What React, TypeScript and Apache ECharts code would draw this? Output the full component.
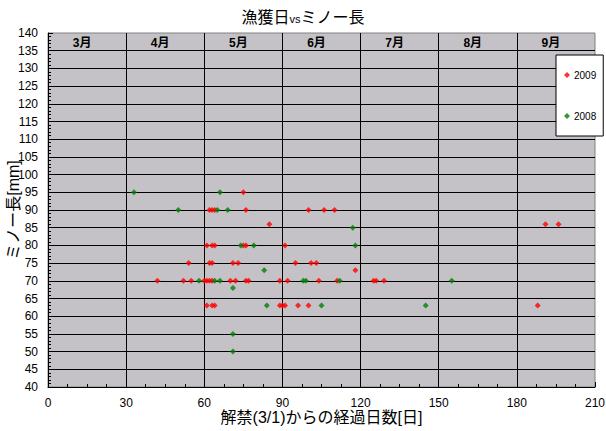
import { useEffect, useRef } from 'react'
import * as echarts from 'echarts'

// [days since 3/1, minnow length mm]
const catch2009: [number, number][] = [
  [75, 95],
  [62, 90], [63, 90], [64, 90], [76, 90], [100, 90], [106, 90], [110, 90],
  [85, 86], [191, 86], [196, 86],
  [61, 80], [63, 80], [64, 80], [75, 80], [76, 80], [91, 80],
  [54, 75], [62, 75], [63, 75], [71, 75], [73, 75], [95, 75], [101, 75], [103, 75],
  [118, 73],
  [42, 70], [52, 70], [55, 70], [60, 70], [61, 70], [62, 70], [63, 70], [70, 70], [72, 70],
  [76, 70], [77, 70], [89, 70], [92, 70], [104, 70], [111, 70], [125, 70], [126, 70], [129, 70],
  [61, 63], [63, 63], [64, 63], [89, 63], [90, 63], [91, 63], [96, 63], [100, 63], [188, 63]
]

const catch2008: [number, number][] = [
  [33, 95], [66, 95],
  [50, 90], [65, 90], [69, 90],
  [117, 85],
  [74, 80], [79, 80], [118, 80],
  [83, 73],
  [58, 70], [64, 70], [66, 70], [98, 70], [99, 70], [112, 70], [155, 70],
  [71, 68],
  [84, 63], [105, 63], [145, 63],
  [71, 55], [71, 50]
]

const months = ['3月', '4月', '5月', '6月', '7月', '8月', '9月']

const FONT = '"Liberation Sans", "Noto Sans CJK JP", sans-serif'

export default function App() {
  const chartRef = useRef<HTMLDivElement>(null)

  useEffect(() => {
    if (!chartRef.current) return
    const chart = echarts.init(chartRef.current, undefined, { renderer: 'svg' })

    const option: echarts.EChartsOption = {
      animation: false,
      backgroundColor: '#FFFFFF',
      title: {
        text: '{a|漁獲日}{b|vs}{a|ミノー長}',
        left: 'center',
        top: 4,
        textStyle: {
          rich: {
            a: { fontSize: 16, fontFamily: FONT, color: '#000', fontWeight: 'normal' },
            b: { fontSize: 11, fontFamily: FONT, color: '#000', fontWeight: 'normal', padding: [3, 0, 0, 0] }
          }
        }
      },
      legend: {
        orient: 'vertical',
        left: 556,
        top: 55,
        padding: [15, 7, 15, 8],
        itemGap: 31,
        itemWidth: 6,
        itemHeight: 6,
        backgroundColor: '#FFFFFF',
        borderColor: '#000000',
        borderWidth: 1,
        borderRadius: 0,
        icon: 'diamond',
        data: ['2009', '2008'],
        textStyle: { fontSize: 10, fontFamily: FONT, color: '#000', padding: [0, 0, 0, -1] }
      },
      grid: {
        left: 48,
        right: 11,
        top: 33,
        bottom: 44,
        outerBoundsMode: 'none',
        containLabel: false,
        show: true,
        backgroundColor: '#C4C2C6',
        borderColor: '#808080',
        borderWidth: 1
      } as any,
      xAxis: [
        {
          type: 'value',
          min: 0,
          max: 210,
          interval: 30,
          name: '解禁(3/1)からの経過日数[日]',
          nameLocation: 'middle',
          nameGap: 22,
          nameMoveOverlap: false,
          nameTextStyle: { fontSize: 16, fontFamily: FONT, color: '#000' },
          axisLine: { lineStyle: { color: '#000', width: 1 } },
          axisTick: { inside: true, length: 5, lineStyle: { color: '#000' } },
          minorTick: { show: true, splitNumber: 4, length: 3, lineStyle: { color: '#000' } },
          axisLabel: { fontSize: 12, fontFamily: FONT, color: '#000', margin: 10 },
          splitLine: { show: true, showMaxLine: false, lineStyle: { color: '#000', width: 1 } }
        },
        {
          type: 'category',
          position: 'top',
          data: months,
          boundaryGap: true,
          axisLine: { show: false },
          axisTick: { show: false },
          splitLine: { show: false },
          axisLabel: {
            inside: true,
            margin: 4,
            fontSize: 12,
            fontWeight: 'bold',
            fontFamily: FONT,
            color: '#000',
            padding: [0, 10, 0, 0]
          }
        }
      ] as any,
      yAxis: {
        type: 'value',
        min: 40,
        max: 140,
        interval: 5,
        name: 'ミノー長[mm]',
        nameLocation: 'middle',
        nameGap: 27,
        nameMoveOverlap: false,
        nameTextStyle: { fontSize: 16, fontFamily: FONT, color: '#000' },
        axisLine: { show: true, lineStyle: { color: '#000', width: 1 } },
        axisTick: { show: true, inside: true, length: 5, lineStyle: { color: '#000' } },
        minorTick: { show: true, splitNumber: 5, length: 3, lineStyle: { color: '#000' } },
        axisLabel: { fontSize: 12, fontFamily: FONT, color: '#000', margin: 10 },
        splitLine: { show: true, showMaxLine: false, lineStyle: { color: '#000', width: 1 } }
      } as any,
      series: [
        {
          name: '2009',
          type: 'scatter',
          xAxisIndex: 0,
          data: catch2009,
          symbol: 'diamond',
          symbolSize: 6,
          itemStyle: { color: '#FF0000' }
        },
        {
          name: '2008',
          type: 'scatter',
          xAxisIndex: 0,
          data: catch2008,
          symbol: 'diamond',
          symbolSize: 6,
          itemStyle: { color: '#008000' }
        }
      ]
    }

    chart.setOption(option)

    return () => {
      chart.dispose()
    }
  }, [])

  return (
    <div
      ref={chartRef}
      style={{ position: 'fixed', left: 0, top: 0, width: '606px', height: '431px' }}
    />
  )
}
